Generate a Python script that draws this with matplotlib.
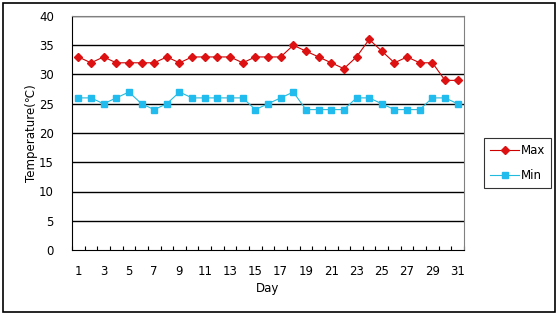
import matplotlib.pyplot as plt
from matplotlib.patches import Rectangle

# Daily temperatures
days = list(range(1, 32))
max_temp = [33, 32, 33, 32, 32, 32, 32, 33, 32, 33, 33, 33, 33, 32, 33, 33,
            33, 35, 34, 33, 32, 31, 33, 36, 34, 32, 33, 32, 32, 29, 29]
min_temp = [26, 26, 25, 26, 27, 25, 24, 25, 27, 26, 26, 26, 26, 26, 24, 25,
            26, 27, 24, 24, 24, 24, 26, 26, 25, 24, 24, 24, 26, 26, 25]
y_ticks = [0, 5, 10, 15, 20, 25, 30, 35, 40]

plt.rcParams['font.family'] = 'DejaVu Sans'
plt.rcParams['font.size'] = 8.5

fig = plt.figure(figsize=(5.6, 3.15), dpi=100)
ax = fig.add_axes([72 / 560, 65 / 315, 392 / 560, 234 / 315])

# outer frame of the chart
fig.patches.append(Rectangle((3 / 560, 3 / 315), 552 / 560, 309 / 315,
                             transform=fig.transFigure, fill=False,
                             edgecolor='black', linewidth=1.2))

for y in y_ticks[1:]:
    ax.axhline(y, color='black', linewidth=1, zorder=1)

ax.plot(days, max_temp, color='#cc0000', linewidth=0.8, marker='D',
        markersize=4.2, markerfacecolor='#dd1111', markeredgecolor='#dd1111',
        label='Max', zorder=3)
ax.plot(days, min_temp, color='#22bbdd', linewidth=0.8, marker='s',
        markersize=5, markerfacecolor='#22bbee', markeredgecolor='#22bbee',
        label='Min', zorder=3)

ax.set_xlim(0.5, 31.5)
ax.set_ylim(0, 40)
ax.set_yticks(y_ticks)
ax.set_xticks(days[::2])
ax.set_xticks([d + 0.5 for d in range(0, 32)], minor=True)
ax.tick_params(axis='x', which='major', length=0, pad=11)
ax.tick_params(axis='x', which='minor', direction='in', length=3, width=0.8)
ax.tick_params(axis='y', length=0, pad=13)

ax.spines['left'].set_color('black')
ax.spines['bottom'].set_color('black')
ax.spines['top'].set_color('gray')
ax.spines['right'].set_color('gray')

ax.set_xlabel('Day', labelpad=3)
ax.set_ylabel('Temperature(℃)', labelpad=1)

leg = ax.legend(loc='center left', bbox_to_anchor=(484 / 560, 152 / 315),
                bbox_transform=fig.transFigure, frameon=True, fancybox=False,
                edgecolor='black', handlelength=2.4, handletextpad=0.15,
                borderpad=0.55, labelspacing=1.0, borderaxespad=0)
leg.get_frame().set_linewidth(0.8)

plt.savefig('out.png', dpi=100)
